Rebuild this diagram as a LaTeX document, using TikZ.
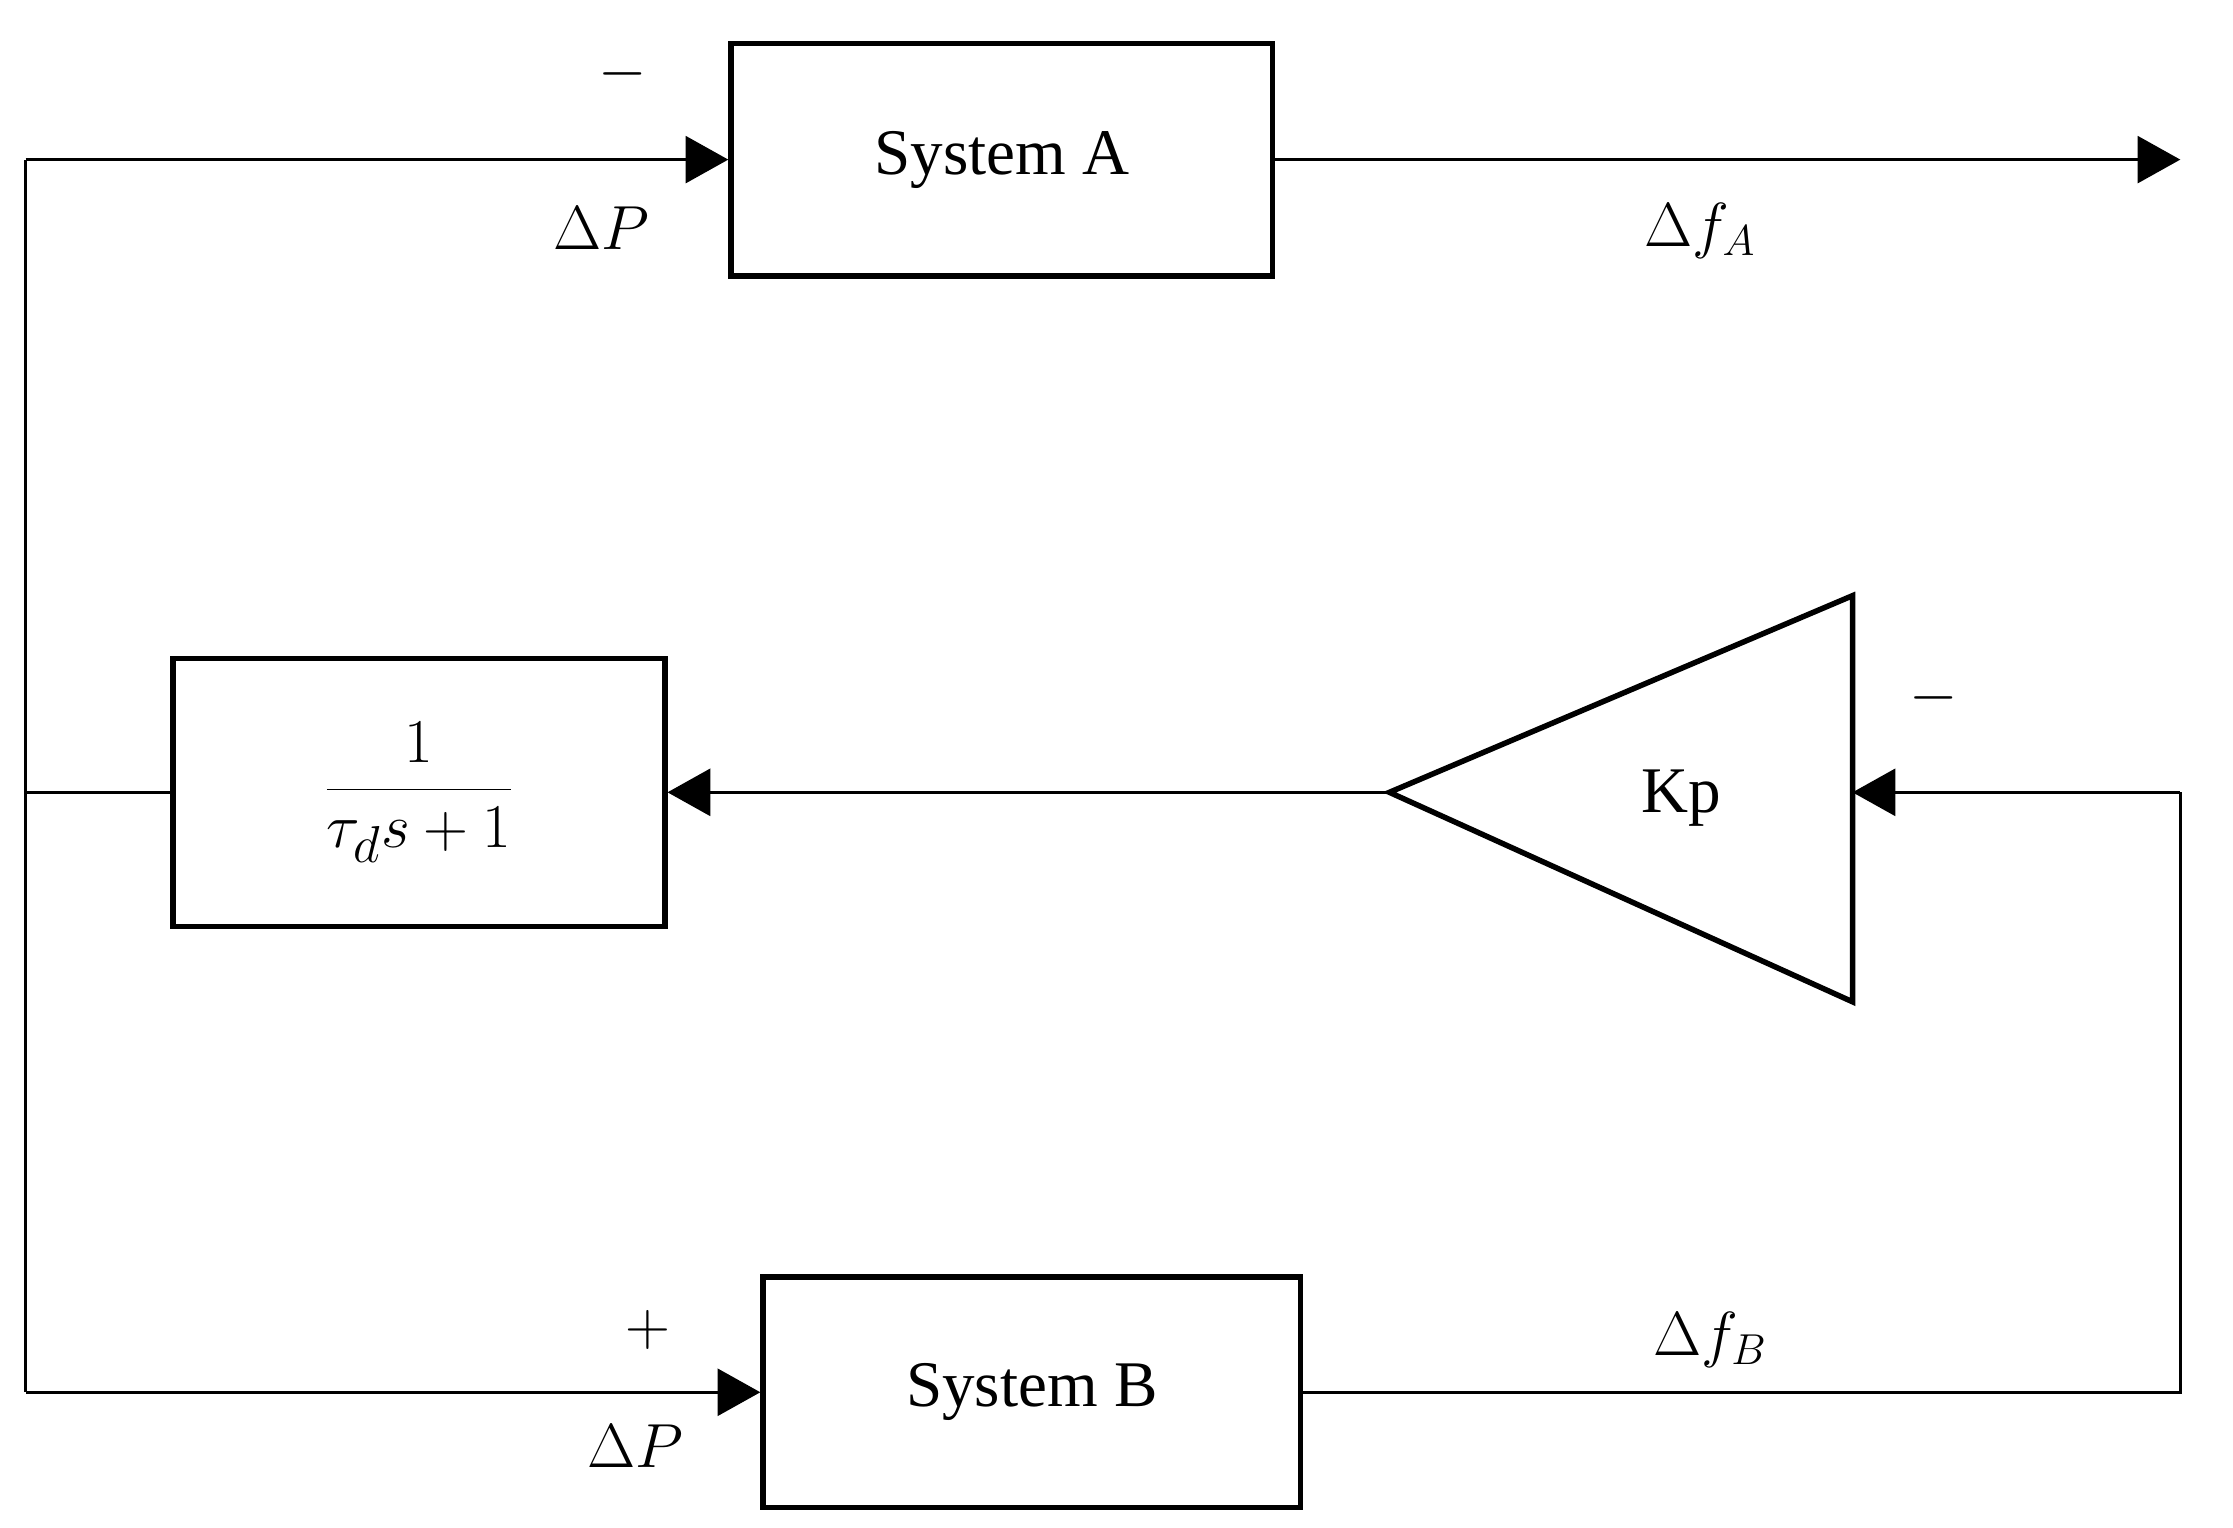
\documentclass[tikz,border=0pt]{standalone}
\usepackage{fontspec}
\setmainfont{Liberation Serif}
\usetikzlibrary{arrows.meta}
\begin{document}
\begin{tikzpicture}[x=0.02cm,y=-0.02cm,
  line width=1.1pt,
  blk/.style={draw,line width=2.2pt,inner sep=0pt,font=\fontsize{26}{30}\selectfont},
  lbl/.style={font=\fontsize{26}{30}\selectfont,inner sep=0pt},
  arr/.style={-{Triangle[length=0.6cm,width=0.66cm]}}]
\useasboundingbox (0,0) rectangle (1567,1072);
\node[blk,minimum width=380*0.02cm,minimum height=163*0.02cm] (A) at (703,112) {System A};
\node[blk,minimum width=377*0.02cm,minimum height=162*0.02cm] (B) at (724,977) {System B};
\node[blk,minimum width=345*0.02cm,minimum height=188*0.02cm,font=\fontsize{30}{34}\selectfont] (T) at (294,556) {$\displaystyle\frac{1}{\tau_d s+1}$};
\coordinate (kt) at (975,556);
\coordinate (kr) at (1300,556);
\draw[line width=2.2pt] (kt) -- (1300,418) -- (1300,703) -- cycle;
\node[lbl] (K) at (1180,560) {Kp};
\coordinate (lt) at (18,112);
\coordinate (lm) at (18,556);
\coordinate (lb) at (18,977);
\coordinate (out) at (1530,112);
\coordinate (rb) at (1530,977);
\coordinate (rt) at (1530,556);
\draw[arr] (lt) -- (A.west);
\draw[arr] (A.east) -- (out);
\draw (lt) -- (lb);
\draw (lm) -- (T.west);
\draw[arr] (lb) -- (B.west);
\draw (B.east) -- (rb) -- (rt);
\draw[arr] (rt) -- (kr);
\draw[arr] (kt) -- (T.east);
\node[lbl] (m1) at (437,52) {$-$};
\node[lbl] (p1) at (422,160) {$\Delta P$};
\node[lbl] (fa) at (1193,162) {$\Delta f_A$};
\node[lbl] (m2) at (1357,490) {$-$};
\node[lbl] (pl) at (455,933) {$+$};
\node[lbl] (p2) at (446,1015) {$\Delta P$};
\node[lbl] (fb) at (1200,940) {$\Delta f_B$};
\end{tikzpicture}
\end{document}
